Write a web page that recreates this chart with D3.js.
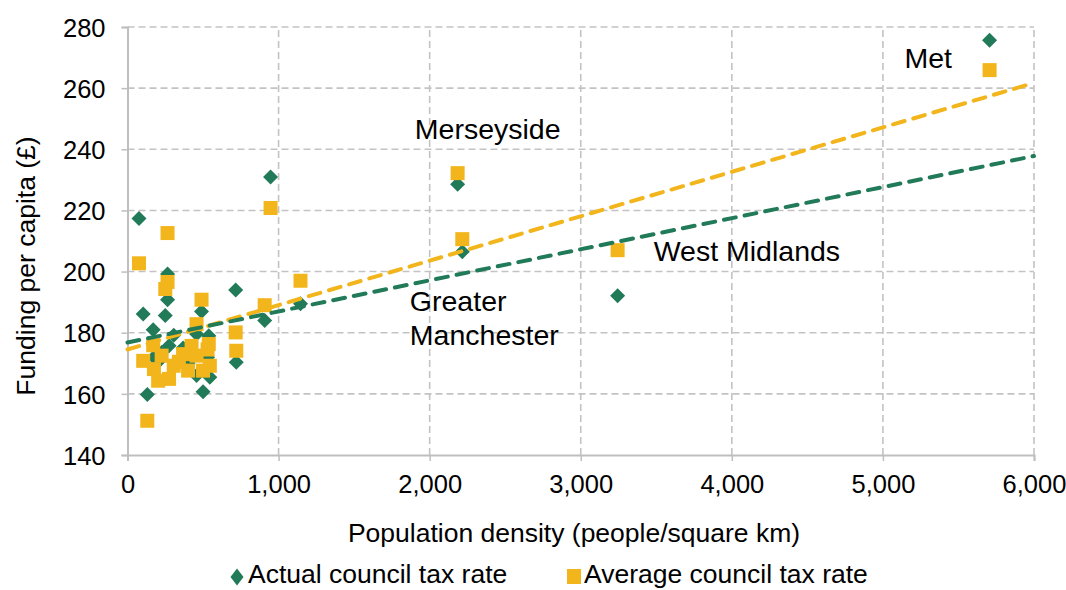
<!DOCTYPE html>
<html>
<head>
<meta charset="utf-8">
<script src="https://cdn.jsdelivr.net/npm/d3@7"></script>
<style>
  html, body { margin: 0; padding: 0; background: #ffffff; }
  svg { display: block; font-family: "Liberation Sans", Arial, sans-serif; }
</style>
</head>
<body>
<svg id="chart" width="1066" height="590"></svg>
<script>
// Fire and rescue authorities: population density vs funding per capita
const density     = [76, 104, 131, 170, 265, 265, 250, 490, 716, 720, 908, 947, 1145, 2185, 2216, 3244, 5706,
                     306, 275, 457, 538, 545, 457, 500, 175, 203, 368, 424, 401, 226, 340, 530];
const actualRate  = [217.4, 186.1, 159.8, 181.0, 199.2, 190.8, 185.6, 186.9, 194.0, 170.3, 184.0, 230.9, 189.5, 228.6, 206.5, 192.1, 275.7,
                     179.2, 175.7, 179.6, 179.0, 165.4, 166.0, 160.7, 172.0, 170.5, 175.0, 173.0, 170.0, 173.5, 171.0, 172.0];
const averageRate = [202.7, 170.8, 151.2, 175.9, 212.6, 196.6, 194.3, 190.8, 180.1, 174.1, 189.0, 220.8, 197.0, 232.2, 210.6, 207.0, 265.9,
                     169.2, 164.9, 182.8, 176.3, 169.2, 172.5, 167.6, 168.1, 164.3, 173.0, 175.7, 167.6, 172.5, 170.5, 174.5];

// Linear trend lines (end points at the axis extent)
const trendX       = [0, 6000];
const actualTrend  = [176.8, 237.8];
const averageTrend = [174.5, 261.7];

// Axis ticks
const xTicks = [0, 1000, 2000, 3000, 4000, 5000, 6000];
const yTicks = [140, 160, 180, 200, 220, 240, 260, 280];

// Point labels
const labelNames = [["Met"], ["Merseyside"], ["West Midlands"], ["Greater", "Manchester"]];
const labelAt    = [[5143, 266.6], [1902, 243.4], [3483, 203.6], [1869, 187.2]];

const green = "#217a58";
const gold = "#f2b51b";
const gridColor = "#c3c3c3";

const svg = d3.select("#chart");
const margin = { left: 127.5, right: 1034, top: 27, bottom: 455 };

const x = d3.scaleLinear().domain([0, 6000]).range([margin.left, margin.right]);
const y = d3.scaleLinear().domain([140, 280]).range([margin.bottom, margin.top]);

// Gridlines
svg.append("g").selectAll("line.vg")
  .data(xTicks.filter(d => d > 0)).join("line")
  .attr("x1", d => x(d)).attr("x2", d => x(d))
  .attr("y1", y(140)).attr("y2", y(280))
  .attr("stroke", gridColor).attr("stroke-width", 1.6).attr("stroke-dasharray", "7,4");
svg.append("g").selectAll("line.hg")
  .data(yTicks.filter(d => d > 140)).join("line")
  .attr("x1", x(0)).attr("x2", x(6000))
  .attr("y1", d => y(d)).attr("y2", d => y(d))
  .attr("stroke", gridColor).attr("stroke-width", 1.6).attr("stroke-dasharray", "7,4");

// Axes
const fmt = d3.format(",");
const xAxis = svg.append("g").attr("transform", `translate(0,${y(140)})`)
  .call(d3.axisBottom(x).tickValues(xTicks).tickFormat(fmt).tickSize(6).tickPadding(14));
const yAxis = svg.append("g").attr("transform", `translate(${x(0)},0)`)
  .call(d3.axisLeft(y).tickValues(yTicks).tickSize(6).tickPadding(16));
[xAxis, yAxis].forEach(g => {
  g.select(".domain").attr("stroke", "#bfbfbf").attr("stroke-width", 2);
  g.selectAll(".tick line").attr("stroke", "#bfbfbf").attr("stroke-width", 1.5);
  g.selectAll(".tick text").attr("fill", "#000").style("font-size", "25.5px")
    .style("font-family", "'Liberation Sans', Arial, sans-serif");
});
yAxis.selectAll(".tick text").attr("dy", "0.36em");

// Markers
const pts = density.map((d, i) => ({ d, a: actualRate[i], v: averageRate[i] }));
const diamond = (cx, cy, hw, hh) => `M${cx},${cy - hh}L${cx + hw},${cy}L${cx},${cy + hh}L${cx - hw},${cy}Z`;

svg.append("g").selectAll("path")
  .data(pts).join("path")
  .attr("d", p => diamond(x(p.d), y(p.a), 7.5, 7.5))
  .attr("fill", green);

svg.append("g").selectAll("rect")
  .data(pts).join("rect")
  .attr("x", p => x(p.d) - 7).attr("y", p => y(p.v) - 7)
  .attr("width", 14).attr("height", 14)
  .attr("fill", gold);

// Trend lines
const line = d3.line().x(p => x(p[0])).y(p => y(p[1]));
svg.append("path")
  .attr("d", line(trendX.map((t, i) => [t, averageTrend[i]])))
  .attr("fill", "none").attr("stroke", gold).attr("stroke-width", 4)
  .attr("stroke-dasharray", "12,9").attr("stroke-linecap", "round");
svg.append("path")
  .attr("d", line(trendX.map((t, i) => [t, actualTrend[i]])))
  .attr("fill", "none").attr("stroke", green).attr("stroke-width", 4)
  .attr("stroke-dasharray", "12,9").attr("stroke-linecap", "round");

// Point labels
labelNames.forEach((lines, i) => {
  const t = svg.append("text")
    .attr("x", x(labelAt[i][0])).attr("y", y(labelAt[i][1]))
    .attr("fill", "#000").style("font-size", "28.5px");
  lines.forEach((s, j) => {
    t.append("tspan").attr("x", x(labelAt[i][0])).attr("dy", j === 0 ? 0 : 34).text(s);
  });
});

// Axis titles
svg.append("text")
  .attr("x", 574).attr("y", 542).attr("text-anchor", "middle")
  .style("font-size", "26.5px").attr("fill", "#000")
  .text("Population density (people/square km)");
svg.append("text")
  .attr("transform", "translate(35,266) rotate(-90)").attr("text-anchor", "middle")
  .style("font-size", "26.5px").attr("fill", "#000")
  .text("Funding per capita (£)");

// Legend
const legend = svg.append("g");
legend.append("path").attr("d", diamond(237, 577, 6.5, 8.5)).attr("fill", green);
legend.append("text").attr("x", 248).attr("y", 583).style("font-size", "26.5px").attr("fill", "#000")
  .text("Actual council tax rate");
legend.append("rect").attr("x", 567).attr("y", 569).attr("width", 14).attr("height", 15).attr("fill", gold);
legend.append("text").attr("x", 584).attr("y", 583).style("font-size", "26.5px").attr("fill", "#000")
  .text("Average council tax rate");
</script>
</body>
</html>
